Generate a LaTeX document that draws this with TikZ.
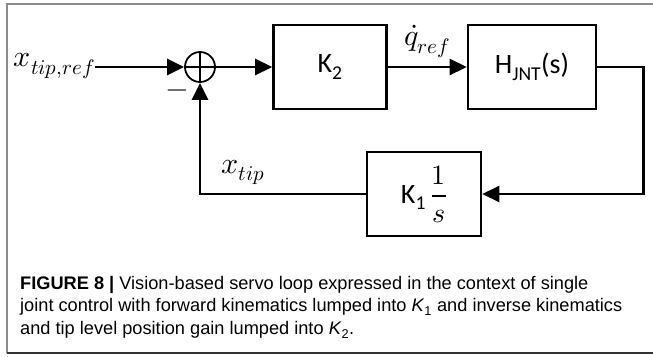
\documentclass[tikz,border=0pt]{standalone}
\usepackage{amsmath}
\usepackage{fontspec}
\usepackage{unicode-math}
\setmathfont{Latin Modern Math}
\setsansfont{Carlito}
\newfontfamily\capfont{Liberation Sans}
\usetikzlibrary{arrows.meta,positioning}
\definecolor{framegray}{HTML}{8C8C8C}
\definecolor{framedark}{HTML}{333333}
\newcommand{\bigtext}{\fontsize{28}{30}\selectfont}
\newcommand{\captext}{\capfont\fontsize{18.2}{22}\selectfont}
\newcommand{\gain}[1]{\textit{K}\textsubscript{#1}}
\tikzset{
    block/.style={draw,line width=2.6pt,minimum width=113pt,minimum height=84pt,font=\sffamily\bigtext},
    sumnode/.style={circle,draw,line width=1.8pt,minimum size=30pt,inner sep=0pt},
    wire/.style={line width=2.6pt},
    sig/.style={wire,-{Triangle[length=17pt,width=16pt]}},
    signame/.style={font=\fontsize{30}{32}\selectfont,inner sep=0pt},
    captionline/.style={anchor=base west,inner sep=0pt},
}

\begin{document}
\begin{tikzpicture}[x=1pt,y=-1pt]
    \useasboundingbox (0,0) rectangle (653,356);
    % frame of the figure
    \draw[framegray,line width=1.2pt] (653,4) -- (7,4) -- (7,353);
    \draw[framedark,line width=1.2pt] (7,353) -- (653,353);

    \node[signame,anchor=east] (xref) at (95,66) {$x_{tip,ref}$};
    \node[sumnode] (sum) at (200,67) {};
    \node[block] (K2) at (330,67) {K\textsubscript{2}};
    \node[block,minimum width=128pt] (H) at (532,67) {H\textsubscript{JNT}(s)};
    \node[block,minimum width=114pt] (fb) at (424,194) {K\textsubscript{1}\,$\dfrac{1}{s}$};
    \node[font=\bfseries\bigtext] (minus) at (177,94) {$-$};

    \draw[line width=1.8pt] (sum.north) -- (sum.south) (sum.west) -- (sum.east);
    \draw[sig] (xref.east |- sum.west) -- (sum.west);
    \draw[sig] (sum.east) -- (K2.west);
    \draw[sig] (K2.east) -- node[signame,above=8pt] {$\dot{q}_{ref}$} (H.west);
    \draw[sig] (H.east) -- ++(46,0) |- (fb.east);
    \draw[sig] (fb.west) -| node[signame,pos=0.37,above=8pt] {$x_{tip}$} (sum.south);

    % caption
    \node[captionline] (cap1) at (20,289) {\captext\textbf{FIGURE 8 |} Vision-based servo loop expressed in the context of single};
    \node[captionline] (cap2) at (20,311.5) {\captext joint control with forward kinematics lumped into \gain{1} and inverse kinematics};
    \node[captionline] (cap3) at (20,334) {\captext and tip level position gain lumped into \gain{2}.};
\end{tikzpicture}
\end{document}
